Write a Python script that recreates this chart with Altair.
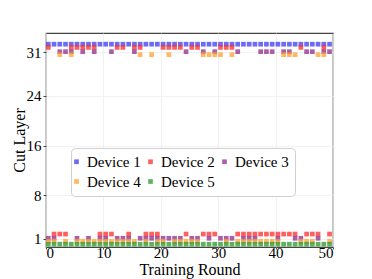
import altair as alt
import pandas as pd

# ---- data ----
devices = ["Device 1", "Device 2", "Device 3", "Device 4", "Device 5"]
colors = ["#3a3af0", "#ff2a2a", "#8e2a8e", "#ffa030", "#2a962a"]
rounds = list(range(50))

# rounds where each device sits at the deep cut (layer 31); otherwise layer 1
dev1_top = list(range(50))
dev2_top = [0, 4, 5, 6, 7, 8, 12, 13, 15, 16, 20, 21, 22, 23, 25, 26, 30, 31, 32, 44, 48]
dev3_top = [2, 3, 4, 6, 8, 11, 15, 24, 27, 29, 33, 37, 38, 39, 41, 42, 45, 46, 48, 49]
dev4_top = [2, 4, 16, 18, 21, 27, 28, 29, 30, 32, 41, 42, 43, 47, 48]
dev5_top = []
tops = [dev1_top, dev2_top, dev3_top, dev4_top, dev5_top]

high_layer = 31
low_layer = 1
# small vertical display offsets that separate the devices
offsets = [1.3, 0.78, 0.1, -0.38, -0.85]

y_ticks = [1, 8, 16, 24, 31]
x_ticks = [0, 10, 20, 30, 40, 50]
legend_order = ["Device 1", "Device 4", "Device 2", "Device 5", "Device 3"]

rows = []
for d, name in enumerate(devices):
    for r in rounds:
        layer = high_layer if r in tops[d] else low_layer
        rows.append({"round": r, "device": name, "order": d,
                     "y": layer + offsets[d]})
df = pd.DataFrame(rows)

font = "Liberation Serif"

chart = alt.Chart(df).transform_calculate(
    xpos="datum.round + 0.4"
).mark_square(size=22, opacity=0.75).encode(
    x=alt.X("xpos:Q", scale=alt.Scale(domain=[0, 50], nice=False),
            axis=alt.Axis(values=x_ticks, title="Training Round", grid=True,
                          tickSize=2, labelPadding=-4, titlePadding=1)),
    y=alt.Y("y:Q", scale=alt.Scale(domain=[-0.3, 34.1], nice=False, zero=False),
            axis=alt.Axis(values=y_ticks, title="Cut Layer", grid=True,
                          tickSize=3, labelPadding=2, titlePadding=-1)),
    color=alt.Color("device:N", scale=alt.Scale(domain=devices, range=colors),
                    legend=alt.Legend(title=None, orient="none", legendX=25, legendY=115,
                                      values=legend_order,
                                      columns=3, columnPadding=7, rowPadding=4,
                                      symbolType="square", symbolSize=22, symbolOpacity=0.75,
                                      symbolOffset=-8,
                                      labelFont=font, labelFontSize=15, labelOffset=3,
                                      fillColor="white", strokeColor="#d0d0d0",
                                      cornerRadius=4, padding=6)),
    order=alt.Order("order:Q"),
).properties(
    width=287, height=214,
    padding={"left": 38, "top": 25, "right": 25, "bottom": 40},
    autosize=alt.AutoSizeParams(type="none"),
).configure_view(
    stroke="#444444", strokeWidth=1.2
).configure_axis(
    labelFont=font, labelFontSize=15, labelColor="black",
    titleFont=font, titleFontSize=16, titleFontWeight="normal", titleColor="black",
    domain=False, tickColor="#444444",
    gridColor="#eeeeee", gridWidth=0.8,
)

chart.save("out.html", embed_options={"renderer": "svg", "actions": False})
